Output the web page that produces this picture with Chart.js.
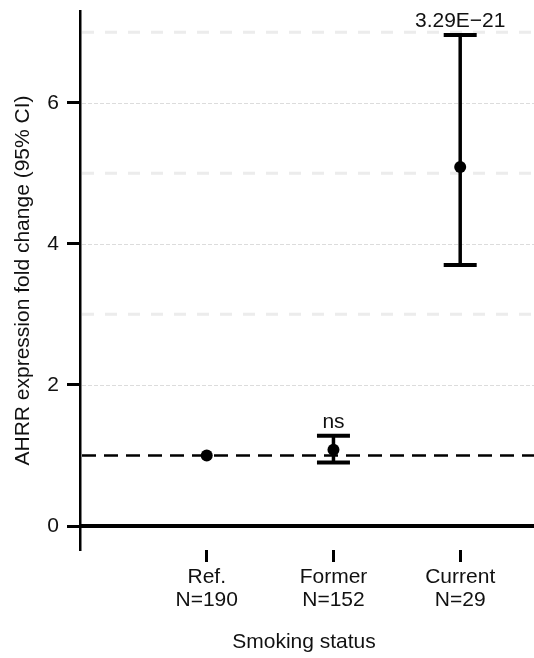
<!DOCTYPE html>
<html><head><meta charset="utf-8">
<script src="https://cdn.jsdelivr.net/npm/chart.js@4"></script>
<style>html,body{margin:0;padding:0;background:#fff}</style>
</head><body>
<canvas id="c" width="534" height="658"></canvas>
<script>
const groupLabels = [['Ref.', 'N=190'], ['Former', 'N=152'], ['Current', 'N=29']];
const groupPositions = [1, 2, 3];
const foldChange = [1.0, 1.08, 5.09];
const ciLower = [null, 0.90, 3.70];
const ciUpper = [null, 1.28, 6.96];
const pValueLabels = ['', 'ns', '3.29E\u221221'];
const yTickValues = [0, 2, 4, 6];
const majorGridValues = [2, 4, 6];
const minorGridValues = [3, 5, 7];
const referenceValue = 1;

const FONT = '"Liberation Sans", Arial, sans-serif';
Chart.defaults.font.family = FONT;
Chart.defaults.font.size = 21;
Chart.defaults.color = '#111';

const decor = {
  id: 'decor',
  beforeDatasetsDraw(chart) {
    const { ctx, chartArea: a, scales: { x, y } } = chart;
    const right = chart.width;
    ctx.save();
    ctx.lineCap = 'butt';
    ctx.strokeStyle = '#ececec'; ctx.lineWidth = 3; ctx.setLineDash([12, 11]);
    minorGridValues.forEach(v => {
      const py = y.getPixelForValue(v);
      ctx.beginPath(); ctx.moveTo(a.left + 2, py); ctx.lineTo(right, py); ctx.stroke();
    });
    ctx.strokeStyle = '#dcdcdc'; ctx.lineWidth = 1; ctx.setLineDash([4, 2]);
    majorGridValues.forEach(v => {
      const py = Math.round(y.getPixelForValue(v)) + 0.5;
      ctx.beginPath(); ctx.moveTo(a.left + 2, py); ctx.lineTo(right, py); ctx.stroke();
    });
    ctx.setLineDash([]); ctx.strokeStyle = '#000'; ctx.lineWidth = 4;
    const y0 = y.getPixelForValue(0);
    ctx.beginPath(); ctx.moveTo(a.left, y0); ctx.lineTo(right, y0); ctx.stroke();
    ctx.setLineDash([14, 8]); ctx.lineWidth = 2.5;
    const y1 = y.getPixelForValue(referenceValue);
    ctx.beginPath(); ctx.moveTo(a.left + 2, y1); ctx.lineTo(right, y1); ctx.stroke();
    ctx.setLineDash([]);
    groupPositions.forEach((g, i) => {
      if (ciLower[i] == null) return;
      const px = x.getPixelForValue(g);
      const pt = y.getPixelForValue(ciUpper[i]);
      const pb = y.getPixelForValue(ciLower[i]);
      ctx.lineWidth = 3.5;
      ctx.beginPath(); ctx.moveTo(px, pt); ctx.lineTo(px, pb); ctx.stroke();
      ctx.lineWidth = 4;
      ctx.beginPath(); ctx.moveTo(px - 16.5, pt); ctx.lineTo(px + 16.5, pt); ctx.stroke();
      ctx.beginPath(); ctx.moveTo(px - 16.5, pb); ctx.lineTo(px + 16.5, pb); ctx.stroke();
    });
    ctx.restore();
  },
  afterDatasetsDraw(chart) {
    const { ctx, scales: { x, y } } = chart;
    ctx.save();
    ctx.font = '21px ' + FONT;
    ctx.fillStyle = '#111';
    ctx.textAlign = 'center';
    ctx.textBaseline = 'alphabetic';
    groupPositions.forEach((g, i) => {
      if (!pValueLabels[i]) return;
      const px = x.getPixelForValue(g);
      const pt = y.getPixelForValue(ciUpper[i]);
      ctx.fillText(pValueLabels[i], px, pt - 8);
    });
    ctx.restore();
  }
};

new Chart(document.getElementById('c'), {
  type: 'scatter',
  data: {
    datasets: [{
      data: groupPositions.map((g, i) => ({ x: g, y: foldChange[i] })),
      backgroundColor: '#000',
      borderColor: '#000',
      pointRadius: 6,
      pointHoverRadius: 6,
      borderWidth: 0
    }]
  },
  options: {
    responsive: false,
    devicePixelRatio: 1,
    animation: false,
    layout: { padding: { top: 11, left: 0, right: 0, bottom: 0 } },
    plugins: { legend: { display: false }, tooltip: { enabled: false } },
    scales: {
      x: {
        type: 'linear',
        min: 0, max: 3.535,
        afterBuildTicks: s => { s.ticks = groupPositions.map(v => ({ value: v })); },
        afterFit: s => { s.height = 108; s.paddingLeft = 0; s.paddingRight = 0; },
        ticks: {
          callback: (v) => { const i = groupPositions.indexOf(v); return i >= 0 ? groupLabels[i] : ''; },
          padding: 4,
          maxRotation: 0,
          autoSkip: false,
          font: { size: 21, lineHeight: 1.1 }
        },
        grid: { drawOnChartArea: false, drawTicks: true, tickLength: 12, tickWidth: 3, tickColor: '#000' },
        border: { display: false },
        title: { display: true, text: 'Smoking status', font: { size: 21 }, padding: { top: 0, bottom: 3 } }
      },
      y: {
        min: -0.34, max: 7.30,
        afterBuildTicks: s => { s.ticks = yTickValues.map(v => ({ value: v })); },
        afterFit: s => { s.width = 80; s.paddingTop = 0; s.paddingBottom = 0; },
        ticks: { padding: 8, font: { size: 21 } },
        grid: { drawOnChartArea: false, drawTicks: true, tickLength: 13, tickWidth: 3, tickColor: '#000' },
        border: { display: true, color: '#000', width: 2.5 },
        title: { display: true, text: 'AHRR expression fold change (95% CI)', font: { size: 21 }, padding: { top: 11, bottom: 0 } }
      }
    }
  },
  plugins: [decor]
});
</script>
</body></html>
